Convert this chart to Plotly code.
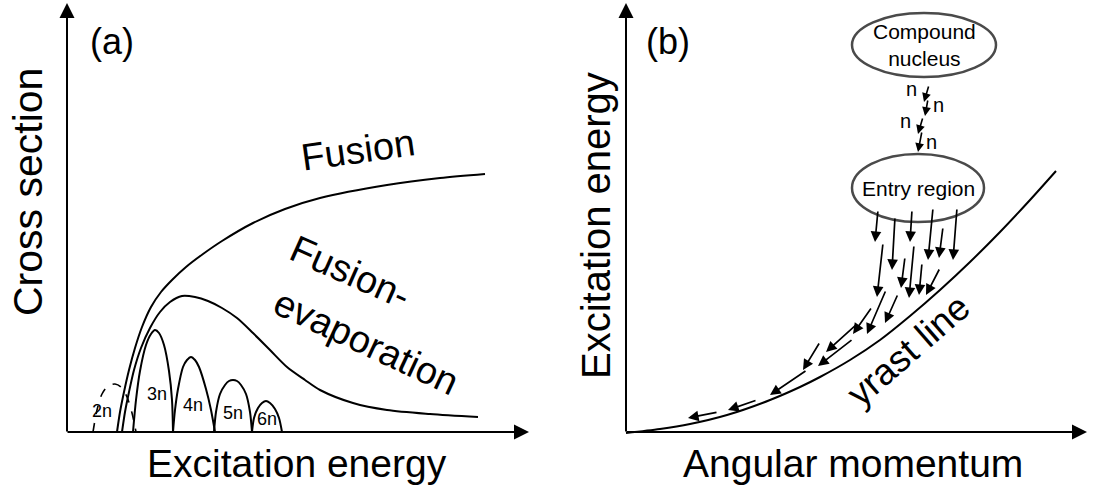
import plotly.graph_objects as go

# ---------------------------------------------------------------
# Schematic coordinates (canvas units: x to the right, y downward)
# ---------------------------------------------------------------

# Panel (a): cross section vs excitation energy
fusion_x = [117, 120, 124, 129, 135, 142, 151, 161, 172, 186, 203, 222, 253, 285, 320, 387, 440, 485]
fusion_y = [432, 412, 392, 370, 348, 327, 307, 292, 280, 267, 254, 241, 223, 209, 198, 185, 178, 174]

fusevap_x = [122, 125, 129, 134, 141, 150, 160, 170, 182, 195, 208, 222, 237, 253, 270, 287, 305, 320, 353, 387, 430, 478]
fusevap_y = [432, 412, 392, 370, 348, 328, 312, 302, 296, 297, 301, 308, 318, 333, 350, 367, 380, 390, 403, 410, 414, 417]

ch2n_x = [93, 97, 102, 108, 115, 121, 127, 132, 136]
ch2n_y = [432, 410, 394, 386, 384, 387, 397, 413, 432]
ch3n_x = [133, 136, 140, 146, 151, 155, 159, 164, 169, 172, 173]
ch3n_y = [432, 400, 371, 345, 334, 330, 333, 345, 371, 400, 432]
ch4n_x = [173, 175, 178, 183, 187, 191, 195, 199, 206, 211, 215]
ch4n_y = [432, 410, 389, 367, 360, 357, 360, 367, 389, 410, 432]
ch5n_x = [214, 216, 220, 225, 229, 233, 237, 241, 246, 250, 252]
ch5n_y = [432, 412, 394, 385, 381, 380, 381, 385, 394, 412, 432]
ch6n_x = [252, 254, 258, 262, 266, 270, 275, 279, 282]
ch6n_y = [432, 418, 408, 403, 401, 403, 409, 418, 432]

channel_labels = ["2n", "3n", "4n", "5n", "6n"]
channel_label_x = [102, 157, 193, 233, 267]
channel_label_y = [411, 394, 405, 413, 419]

# Panel (b): excitation energy vs angular momentum
yrast_x = [626, 660, 690, 727, 770, 800, 820, 850, 880, 910, 940, 970, 1000, 1030, 1056]
yrast_y = [433, 429, 424, 415, 400, 387, 377, 360, 340, 316, 290, 262, 232, 200, 171]

# gamma cascade arrows: tail -> head
gamma_tail_x = [878, 895, 912, 933, 943, 957, 883, 905, 914, 922, 940, 886, 898, 872, 857, 853, 820, 807, 757, 718]
gamma_tail_y = [210, 217, 210, 208, 227, 208, 243, 257, 245, 263, 268, 290, 294, 307, 324, 339, 342, 370, 400, 412]
gamma_head_x = [875, 892, 910, 928, 939, 953, 877, 901, 909, 919, 926, 867, 885, 853, 826, 818, 803, 770, 728, 688]
gamma_head_y = [242, 270, 242, 260, 258, 260, 297, 288, 298, 295, 295, 334, 323, 334, 352, 366, 370, 395, 410, 418]

# neutron evaporation steps between the two ellipses
neutron_tail_x = [929, 928, 923, 922]
neutron_tail_y = [85, 99, 117, 131]
neutron_head_x = [924, 925, 918, 918]
neutron_head_y = [102, 116, 134, 152]
neutron_label_x = [911, 938, 905, 931]
neutron_label_y = [89, 105, 121, 142]

# ellipses: centre and half-axes
ellipse_names = ["Compound<br>nucleus", "Entry region"]
ellipse_cx = [924, 918]
ellipse_cy = [45, 188]
ellipse_rx = [72, 66]
ellipse_ry = [32, 34]

# axes of both panels: origin and arrow tips
axis_origin_x = [67, 626]
axis_origin_y = [432, 432]
axis_xtip = [529, 1087]
axis_ytip = [3, 3]

FONT = "Liberation Sans, Arial, Helvetica, sans-serif"

fig = go.Figure()


def add_curve(x, y, dash="solid", width=2.0):
    fig.add_trace(go.Scatter(
        x=x, y=y, mode="lines",
        line=dict(color="black", width=width, shape="spline", smoothing=0.8, dash=dash),
        hoverinfo="skip", showlegend=False,
    ))


add_curve(fusion_x, fusion_y)
add_curve(fusevap_x, fusevap_y)
add_curve(ch2n_x, ch2n_y, dash="dash", width=1.6)
for cx, cy in [(ch3n_x, ch3n_y), (ch4n_x, ch4n_y), (ch5n_x, ch5n_y), (ch6n_x, ch6n_y)]:
    add_curve(cx, cy)
add_curve(yrast_x, yrast_y)

annotations = []


def arrow(tx, ty, hx, hy, width=1.8, size=1.2):
    annotations.append(dict(
        x=hx, y=hy, ax=tx, ay=ty, xref="x", yref="y", axref="x", ayref="y",
        text="", showarrow=True, arrowhead=2, arrowsize=size, arrowwidth=width,
        arrowcolor="black", standoff=0, startstandoff=0,
    ))


def label(x, y, text, size, angle=0, color="black"):
    annotations.append(dict(
        x=x, y=y, xref="x", yref="y", text=text, showarrow=False,
        textangle=angle, xanchor="center", yanchor="middle",
        font=dict(family=FONT, size=size, color=color),
    ))


# panel axes with arrow tips
for ox, oy, xt, yt in zip(axis_origin_x, axis_origin_y, axis_xtip, axis_ytip):
    arrow(ox - 1, oy, xt, oy, width=2, size=1.5)
    arrow(ox, oy + 1, ox, yt, width=2, size=1.5)

for tx, ty, hx, hy in zip(gamma_tail_x, gamma_tail_y, gamma_head_x, gamma_head_y):
    arrow(tx, ty, hx, hy, width=1.7, size=1.25)

for tx, ty, hx, hy in zip(neutron_tail_x, neutron_tail_y, neutron_head_x, neutron_head_y):
    arrow(tx, ty, hx, hy, width=1.6, size=1.1)
for nx, ny in zip(neutron_label_x, neutron_label_y):
    label(nx, ny, "n", 20)

for name, cx, cy in zip(channel_labels, channel_label_x, channel_label_y):
    label(cx, cy, name, 18)

for name, cx, cy in zip(ellipse_names, ellipse_cx, ellipse_cy):
    label(cx, cy, name, 21)

# panel letters and curve names
label(112, 41, "(a)", 36)
label(668, 41, "(b)", 36)
label(358, 150, "Fusion", 38, angle=-8)
label(350, 272, "Fusion-", 38, angle=24)
label(366, 342, "evaporation", 38, angle=25)
label(908, 350, "yrast line", 37, angle=-41)

# axis titles
label(297, 463, "Excitation energy", 39)
label(853, 463, "Angular momentum", 39)
label(28, 192, "Cross section", 41, angle=-90)
label(596, 226, "Excitation energy", 40, angle=-90)

shapes = []
for cx, cy, rx, ry in zip(ellipse_cx, ellipse_cy, ellipse_rx, ellipse_ry):
    shapes.append(dict(
        type="circle", xref="x", yref="y",
        x0=cx - rx, x1=cx + rx, y0=cy - ry, y1=cy + ry,
        line=dict(color="#4a4a4a", width=2.5), layer="above",
    ))

fig.update_layout(
    width=1094, height=486,
    margin=dict(l=0, r=0, t=0, b=0),
    paper_bgcolor="white", plot_bgcolor="white",
    xaxis=dict(range=[0, 1094], visible=False, fixedrange=True),
    yaxis=dict(range=[486, 0], visible=False, fixedrange=True),
    annotations=annotations, shapes=shapes,
    showlegend=False,
)

fig.write_html("out.html")
